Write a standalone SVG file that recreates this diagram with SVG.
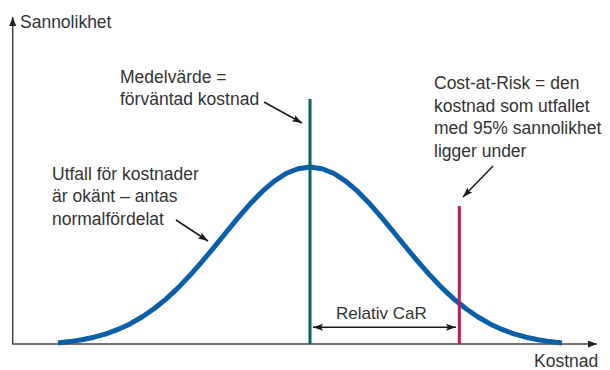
<svg xmlns="http://www.w3.org/2000/svg" width="610" height="370" viewBox="0 0 610 370">
<style>
text{font-family:"Liberation Sans",Arial,sans-serif;font-size:17.5px;fill:#333333}
.ax{stroke:#444444;stroke-width:1.5;fill:none}
.ar{stroke:#1a1a1a;stroke-width:1.5;fill:none}
</style>
<defs>
<marker id="ah" viewBox="0 0 10 7" refX="10" refY="3.5" markerWidth="10" markerHeight="7" markerUnits="userSpaceOnUse" orient="auto-start-reverse"><path d="M0,0L10,3.5L0,7L2,3.5z" fill="#1a1a1a"/></marker>
<marker id="axh" viewBox="0 0 9 7" refX="9" refY="3.5" markerWidth="9" markerHeight="7" markerUnits="userSpaceOnUse" orient="auto"><path d="M0,0L9,3.5L0,7z" fill="#222222"/></marker>
</defs>
<g id="axes">
<path class="ax" d="M12.7,344V17" marker-end="url(#axh)"/>
<path class="ax" d="M12,344H597" marker-end="url(#axh)"/>
<text x="20" y="28">Sannolikhet</text>
<text x="534" y="367">Kostnad</text>
</g>
<g id="curve">
<polyline fill="none" stroke="#0a5fa8" stroke-width="5" stroke-linejoin="round" points="58,343 70,341.6 82,339.7 94,337.2 106,333.8 118,329.4 130,323.9 142,317 154,308.8 166,299.1 178,287.9 190,275.3 202,261.7 214,247.3 226,232.5 238,217.9 250,204.1 262,191.7 274,181.4 286,173.5 298,168.7 310,167 322,168.7 334,173.5 346,181.4 358,191.7 370,204.1 382,217.9 394,232.5 406,247.3 418,261.7 430,275.3 442,287.9 454,299.1 466,308.8 478,317 490,323.9 502,329.4 514,333.8 526,337.2 538,339.7 550,341.6 562,343"/>
</g>
<g id="mean">
<line x1="310" y1="99" x2="310" y2="344" stroke="#00665f" stroke-width="3"/>
<text x="120" y="83">Medelvärde =</text>
<text x="120" y="105">förväntad kostnad</text>
</g>
<g id="car">
<line x1="459.3" y1="206" x2="459.3" y2="344" stroke="#c0185a" stroke-width="3"/>
<text x="434" y="89">Cost-at-Risk = den</text>
<text x="434" y="112">kostnad som utfallet</text>
<text x="434" y="134">med 95% sannolikhet</text>
<text x="434" y="157">ligger under</text>
</g>
<g id="dist">
<text x="52" y="180">Utfall för kostnader</text>
<text x="52" y="202">är okänt – antas</text>
<text x="52" y="225">normalfördelat</text>
</g>
<g id="relcar">
<text x="336" y="319" style="font-size:17px">Relativ CaR</text>
</g>
<g id="connectors">
<line class="ar" x1="264" y1="102" x2="302" y2="123" marker-end="url(#ah)"/>
<line class="ar" x1="493" y1="166" x2="463" y2="197" marker-end="url(#ah)"/>
<line class="ar" x1="176" y1="220" x2="208" y2="241" marker-end="url(#ah)"/>
<line class="ar" x1="313" y1="327.3" x2="456" y2="327.3" stroke-width="1.8" marker-start="url(#ah)" marker-end="url(#ah)"/>
</g>
</svg>
